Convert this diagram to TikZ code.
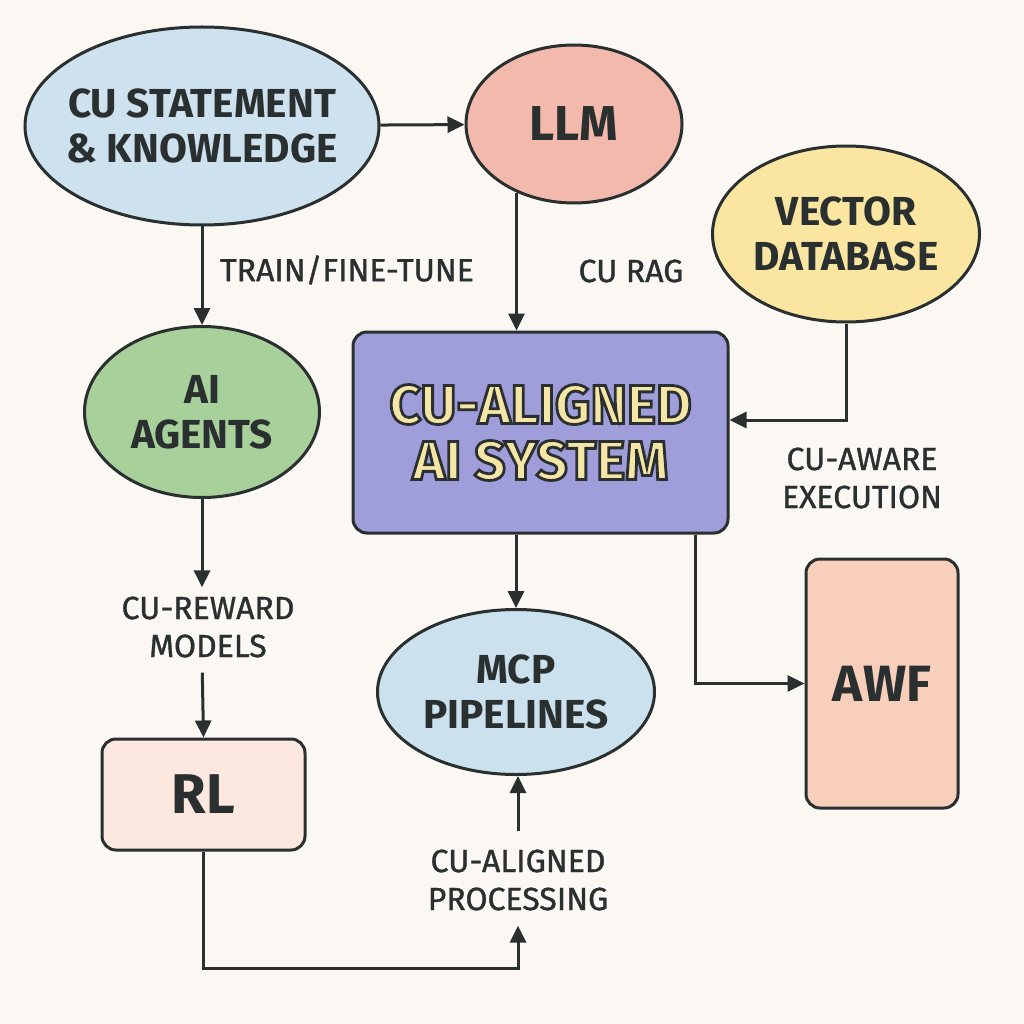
\documentclass[tikz,border=0pt]{standalone}
\usepackage{fontspec}
\setmainfont{Fira Sans}
\newfontfamily\lblfont{Fira Sans}[FakeBold=1.1]
\usetikzlibrary{shapes.geometric,arrows.meta}
\definecolor{ink}{HTML}{2A3030}
\definecolor{bg}{HTML}{FBF8F4}
\definecolor{cublue}{HTML}{CDE1EE}
\definecolor{llmpink}{HTML}{F3B9AC}
\definecolor{vecyellow}{HTML}{FAE6A0}
\definecolor{agentgreen}{HTML}{A8D09B}
\definecolor{syspurple}{HTML}{A09EDA}
\definecolor{sysyellow}{HTML}{F6E6A6}
\definecolor{mcpblue}{HTML}{CCE1EE}
\definecolor{rlpink}{HTML}{FCE8DE}
\definecolor{awfpeach}{HTML}{F7CFBA}
\newcommand{\outlinetxt}[1]{\special{pdf:literal direct 2 Tr 2.8 w 0.165 0.188 0.188 RG}#1\special{pdf:literal direct 0 Tr}}
\begin{document}
\begin{tikzpicture}[x=1pt,y=-1pt,
  shapebase/.style={draw=ink, line width=3pt, text=ink, align=center,
    font=\bfseries\fontsize{40.5}{45}\selectfont},
  ell/.style={shapebase, ellipse, inner sep=-80pt},
  boxnode/.style={shapebase, rectangle, rounded corners=14pt, inner sep=0pt},
  arr/.style={draw=ink, line width=3pt, -{Triangle[length=17pt,width=16pt]}},
  lbl/.style={text=ink, align=center, inner sep=0pt,
    font=\lblfont\fontsize{32}{38}\selectfont}]
\useasboundingbox[fill=bg] (0,0) rectangle (1024,1024);

% nodes
\node[ell, fill=cublue, minimum width=354pt, minimum height=198pt] (cu) at (202,126) {CU STATEMENT\\\& KNOWLEDGE};
\node[ell, fill=llmpink, minimum width=216pt, minimum height=158pt,
  font=\bfseries\fontsize{49}{55}\selectfont] (llm) at (574,124) {LLM};
\node[ell, fill=vecyellow, minimum width=267pt, minimum height=176pt] (vec) at (846,234) {VECTOR\\DATABASE};
\node[ell, fill=agentgreen, minimum width=235pt, minimum height=171pt] (agents) at (202,412) {AI\\AGENTS};
\node[boxnode, fill=syspurple, minimum width=375pt, minimum height=201pt, text=sysyellow,
  font=\bfseries\fontsize{55}{56}\selectfont] (sys) at (540.5,432.5)
  {\outlinetxt{CU-ALIGNED}\\\outlinetxt{AI SYSTEM}};
\node[ell, fill=mcpblue, minimum width=277pt, minimum height=165pt] (mcp) at (516,692) {MCP\\PIPELINES};
\node[boxnode, fill=rlpink, minimum width=203pt, minimum height=111pt,
  font=\bfseries\fontsize{56}{60}\selectfont] (rl) at (203.5,794.5) {RL};
\node[boxnode, fill=awfpeach, minimum width=152pt, minimum height=249pt,
  font=\bfseries\fontsize{51}{55}\selectfont] (awf) at (882,683.5) {AWF};

% labels
\node[lbl] (train) at (347,270) {TRAIN/FINE-TUNE};
\node[lbl] (rag) at (631,271) {CU RAG};
\node[lbl] (aware) at (862,478) {CU-AWARE\\EXECUTION};
\node[lbl] (reward) at (208,627) {CU-REWARD\\MODELS};
\node[lbl] (proc) at (518,880) {CU-ALIGNED\\PROCESSING};

\coordinate (low) at (360,968);

% connectors
\draw[arr] (cu) -- (llm);
\draw[arr] (cu.south) -- (agents.north);
\draw[arr] (llm.230) -- (llm.230 |- sys.north);
\draw[arr] (vec.south) |- ([yshift=12.5pt]sys.east);
\draw[arr, shorten >=9pt] (agents.south) -- (agents.south |- reward.north);
\draw[arr, shorten <=15pt] (agents.south |- reward.south) -- (rl.north);
\draw[arr] (sys.south -| mcp.north) -- (mcp.north);
\draw[arr] ([xshift=154.5pt]sys.south) |- (awf.west);
\draw[arr, shorten >=15pt] (rl.south) |- (low) -| (proc.south);
\draw[arr, shorten <=18pt] (proc.north) -- (proc.north |- mcp.south);
\end{tikzpicture}
\end{document}
